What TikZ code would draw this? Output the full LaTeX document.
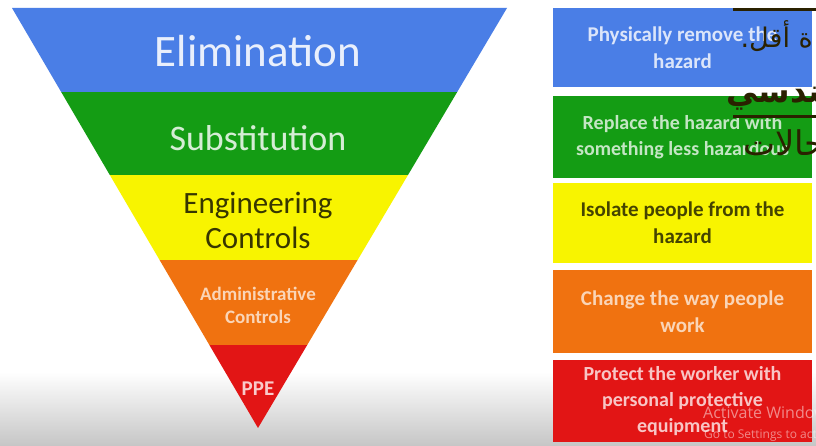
\documentclass[tikz,border=0pt]{standalone}
\usepackage{fontspec}
\setmainfont{Carlito}
\newfontfamily\arabicfont[Script=Arabic]{DejaVu Sans}
\newfontfamily\wmfont{Open Sans}
\TeXXeTstate=1
\definecolor{tblue}{HTML}{4A7EE6}
\definecolor{tgreen}{HTML}{149C14}
\definecolor{tyellow}{HTML}{F8F400}
\definecolor{torange}{HTML}{F07210}
\definecolor{tred}{HTML}{E21515}
\definecolor{ardark}{HTML}{2A2100}
\begin{document}
\begin{tikzpicture}[x=1pt,y=-1pt,
  lvl/.style={align=center, inner sep=0pt},
  box/.style={minimum width=259pt, inner sep=0pt, align=center,
    font=\bfseries\fontsize{21}{27}\selectfont},
  artext/.style={inner sep=0pt, text=ardark, anchor=base east},
  uline/.style={draw=ardark, line width=3pt},
  wm/.style={inner sep=0pt, anchor=base west, text=white, opacity=0.5}]
\useasboundingbox (0,0) rectangle (816,446);
\fill[white] (0,0) rectangle (816,446);
\shade[top color=white, bottom color=gray!45] (0,372) rectangle (816,446);
% inverted pyramid
\begin{scope}
  \clip (12,8) -- (507,8) -- (258,428) -- cycle;
  \fill[tblue]   (0,0)   rectangle (520,92);
  \fill[tgreen]  (0,92)  rectangle (520,175);
  \fill[tyellow] (0,175) rectangle (520,260);
  \fill[torange] (0,260) rectangle (520,345);
  \fill[tred]    (0,345) rectangle (520,440);
\end{scope}
\node[lvl, text=white!88!tblue, font=\fontsize{45}{50}\selectfont] (elim) at (258,51) {Elimination};
\node[lvl, text=white!82!tgreen, font=\fontsize{36}{40}\selectfont] (subst) at (258,138) {Substitution};
\node[lvl, text=black!78!tyellow, font=\fontsize{31}{35}\selectfont] (eng) at (258,220) {Engineering\\Controls};
\node[lvl, text=white!70!torange, font=\bfseries\fontsize{19}{23}\selectfont] (admin) at (258,305) {Administrative\\Controls};
\node[lvl, text=white!78!tred, font=\bfseries\fontsize{21}{24}\selectfont] (ppe) at (258,389) {PPE};
% right-hand boxes
\node[box, fill=tblue, minimum height=79pt, text=white!80!tblue] (b1) at (682.5,47.5) {Physically remove the\\hazard};
\node[box, fill=tgreen, minimum height=82pt, text=white!75!tgreen, font=\bfseries\fontsize{20}{26}\selectfont] (b2) at (682.5,137) {Replace the hazard with\\something less hazardous};
\node[box, fill=tyellow, minimum height=80pt, text=black!72!tyellow] (b3) at (682.5,223) {Isolate people from the\\hazard};
\node[box, fill=torange, minimum height=83pt, text=white!70!torange] (b4) at (682.5,311.5) {Change the way people\\work};
\node[box, fill=tred, minimum height=82pt, text=white!75!tred, font=\bfseries\fontsize{20}{26}\selectfont] (b5) at (682.5,401) {Protect the worker with\\personal protective\\equipment};
% watermark
\node[wm, font=\wmfont\fontsize{16}{18}\selectfont] (wm1) at (703,418) {Activate Windows};
\node[wm, font=\wmfont\fontsize{12}{14}\selectfont] (wm2) at (704,438) {Go to Settings to activate Windows.};
% arabic overlay
\draw[uline] (733,10) -- (816,10);
\node[artext, font=\arabicfont\fontsize{27}{30}\selectfont] (ar1) at (813,48) {\beginR ة أقل.\endR};
\node[artext, font=\arabicfont\bfseries\fontsize{32}{36}\selectfont] (ar2) at (822,103) {\beginR ^^^^200dندسي\endR};
\draw[uline] (733,117) -- (816,117);
\node[artext, font=\arabicfont\fontsize{34}{38}\selectfont] (ar3) at (826,156) {\beginR حالات\endR};
\end{tikzpicture}
\end{document}
